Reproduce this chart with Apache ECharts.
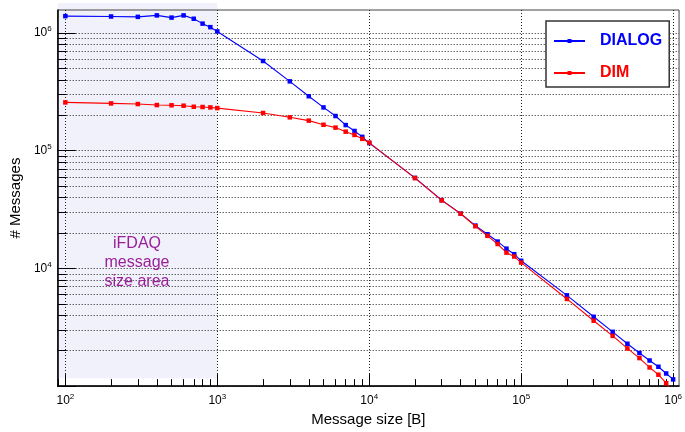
<!DOCTYPE html>
<html lang="en">
<head>
    <meta charset="UTF-8">
    <title>Messages vs size</title>
    <script src="https://cdn.jsdelivr.net/npm/echarts@6/dist/echarts.min.js"></script>
    <style>
        html, body { margin: 0; padding: 0; background: #fff; }
    </style>
</head>
<body>
    <div id="main" style="width: 685px; height: 432px"></div>
    <script>
        // message sizes [B]
        var sizes = [100, 200, 300, 400, 500, 600, 700, 800, 900,
            1000, 2000, 3000, 4000, 5000, 6000, 7000, 8000, 9000,
            10000, 20000, 30000, 40000, 50000, 60000, 70000, 80000, 90000,
            100000, 200000, 300000, 400000, 500000, 600000, 700000, 800000, 900000,
            1000000];

        // number of messages
        var dialog = [1.39e6, 1.38e6, 1.37e6, 1.41e6, 1.35e6, 1.41e6, 1.32e6, 1.20e6, 1.12e6,
            1.03e6, 5.78e5, 3.88e5, 2.90e5, 2.33e5, 1.97e5, 1.65e5, 1.47e5, 1.31e5,
            1.16e5, 5.87e4, 3.80e4, 2.92e4, 2.31e4, 1.95e4, 1.69e4, 1.47e4, 1.32e4,
            1.16e4, 5.90e3, 3.88e3, 2.89e3, 2.29e3, 1.91e3, 1.65e3, 1.46e3, 1.28e3,
            1.14e3];
        var dim = [2.57e5, 2.52e5, 2.49e5, 2.44e5, 2.43e5, 2.41e5, 2.36e5, 2.35e5, 2.33e5,
            2.30e5, 2.09e5, 1.92e5, 1.80e5, 1.66e5, 1.57e5, 1.45e5, 1.36e5, 1.26e5,
            1.17e5, 5.85e4, 3.78e4, 2.91e4, 2.28e4, 1.89e4, 1.61e4, 1.36e4, 1.26e4,
            1.12e4, 5.50e3, 3.59e3, 2.67e3, 2.09e3, 1.73e3, 1.44e3, 1.25e3, 1.06e3,
            8.6e2];

        // decades with tick labels (exponents)
        var xDecades = [2, 3, 4, 5, 6];
        var yDecades = [3, 4, 5, 6];
        var yLabelDecades = [4, 5, 6];

        // axis range, in log10 units
        var xMinLog = 1.9496, xMaxLog = 6.039;
        var yMinLog = 3, yMaxLog = 6.195;

        // shaded "iFDAQ" box
        var shadeX = [Math.pow(10, xMinLog), 1000];
        var shadeY = [1165, 1.8e6];

        var font = 'Liberation Sans, Arial, sans-serif';

        // minor ticks at 2..9 x 10^n
        function minors(lo, hi, withDecades) {
            var res = [];
            for (var n = Math.floor(lo); n <= Math.ceil(hi); n++) {
                for (var k = 1; k <= 9; k++) {
                    if (k == 1 && !withDecades) continue;
                    var v = n + Math.log10(k);
                    if (v > lo + 0.003 && v <= hi) res.push(v);
                }
            }
            return res;
        }
        var xMinor = minors(xMinLog, xMaxLog, false);
        var yMinor = minors(yMinLog - 0.01, yMaxLog, true);

        function pairs(ys) {
            var res = [];
            for (var i = 0; i < sizes.length; i++) res.push([sizes[i], ys[i]]);
            return res;
        }

        var richLabel = {
            b: { fontSize: 12, lineHeight: 16, fontFamily: font, color: '#000' },
            s: { fontSize: 8, lineHeight: 7, verticalAlign: 'top', fontFamily: font, color: '#000' }
        };
        function powLabel(v) {
            return '{b|10}{s|' + Math.round(v) + '}';
        }
        var dots = { color: '#222', width: 1, type: [1, 2] };

        var chart = echarts.init(document.getElementById('main'));
        chart.setOption({
            animation: false,
            grid: {
                left: 55, top: 10, right: 5, bottom: 41,
                show: true, borderColor: '#444', borderWidth: 1
            },
            xAxis: [
                // data axis
                { type: 'log', position: 'bottom', min: Math.pow(10, xMinLog), max: Math.pow(10, xMaxLog), show: false },
                // decades, labels and grid
                {
                    type: 'value', position: 'bottom', min: xMinLog, max: xMaxLog,
                    axisLine: { show: true, lineStyle: { color: '#000', width: 1.5 } },
                    axisTick: { show: true, inside: true, length: 12, customValues: xDecades, lineStyle: { color: '#000' } },
                    axisLabel: { customValues: xDecades, formatter: powLabel, rich: richLabel, margin: 7 },
                    splitLine: { show: true, lineStyle: dots },
                    name: 'Message size [B]', nameLocation: 'middle', nameGap: 21,
                    nameTextStyle: { fontSize: 15, fontFamily: font, color: '#000' }
                },
                // minor ticks
                {
                    type: 'value', position: 'bottom', min: xMinLog, max: xMaxLog,
                    axisLine: { show: false },
                    axisTick: { show: true, inside: true, length: 7, customValues: xMinor, lineStyle: { color: '#000' } },
                    axisLabel: { show: false },
                    splitLine: { show: false }
                }
            ],
            yAxis: [
                { type: 'log', position: 'left', min: Math.pow(10, yMinLog), max: Math.pow(10, yMaxLog), show: false },
                {
                    type: 'value', position: 'left', min: yMinLog, max: yMaxLog,
                    axisLine: { show: true, lineStyle: { color: '#000', width: 1.5 } },
                    axisTick: { show: true, inside: true, length: 18, customValues: yDecades, lineStyle: { color: '#000' } },
                    axisLabel: { customValues: yLabelDecades, formatter: powLabel, rich: richLabel, margin: 6 },
                    splitLine: { show: false },
                    name: '# Messages', nameLocation: 'middle', nameGap: 31,
                    nameTextStyle: { fontSize: 15, fontFamily: font, color: '#000' }
                },
                {
                    type: 'value', position: 'left', min: yMinLog, max: yMaxLog,
                    axisLine: { show: false },
                    axisTick: { show: true, inside: true, length: 9, customValues: yMinor, lineStyle: { color: '#000' } },
                    axisLabel: { show: false },
                    splitLine: { show: true, lineStyle: dots }
                }
            ],
            legend: {
                left: 546, top: 21, orient: 'vertical',
                itemWidth: 31, itemHeight: 5, itemGap: 16,
                padding: [12, 7, 6, 7],
                borderColor: '#333', borderWidth: 1.5, backgroundColor: '#fff',
                textStyle: { fontSize: 16, fontWeight: 'bold', fontFamily: font, padding: [0, 0, 0, 10] },
                data: [
                    { name: 'DIALOG', textStyle: { color: '#0000ff' } },
                    { name: 'DIM', textStyle: { color: '#ff0000' } }
                ]
            },
            series: [
                {
                    name: 'DIALOG', type: 'line', xAxisIndex: 0, yAxisIndex: 0,
                    data: pairs(dialog), symbol: 'rect', symbolSize: 4.5,
                    color: '#0000ff', lineStyle: { width: 1.1 }
                },
                {
                    name: 'DIM', type: 'line', xAxisIndex: 0, yAxisIndex: 0,
                    data: pairs(dim), symbol: 'rect', symbolSize: 4.5,
                    color: '#ff0000', lineStyle: { width: 1.1 }
                }
            ]
        });

        // shaded box and its caption, placed through the data axes
        var p0 = chart.convertToPixel({ xAxisIndex: 0, yAxisIndex: 0 }, [shadeX[0], shadeY[1]]);
        var p1 = chart.convertToPixel({ xAxisIndex: 0, yAxisIndex: 0 }, [shadeX[1], shadeY[0]]);
        chart.setOption({
            graphic: [
                {
                    type: 'rect', z: -1, silent: true,
                    shape: { x: p0[0], y: p0[1], width: p1[0] - p0[0], height: p1[1] - p0[1] },
                    style: { fill: '#f1f1fc' }
                },
                {
                    type: 'text', z: 5, silent: true,
                    x: 137, y: 263,
                    style: {
                        text: 'iFDAQ\nmessage\nsize area',
                        fill: '#991f99', font: '16px ' + font,
                        align: 'center', verticalAlign: 'middle', lineHeight: 19
                    }
                }
            ]
        });
    </script>
</body>
</html>
